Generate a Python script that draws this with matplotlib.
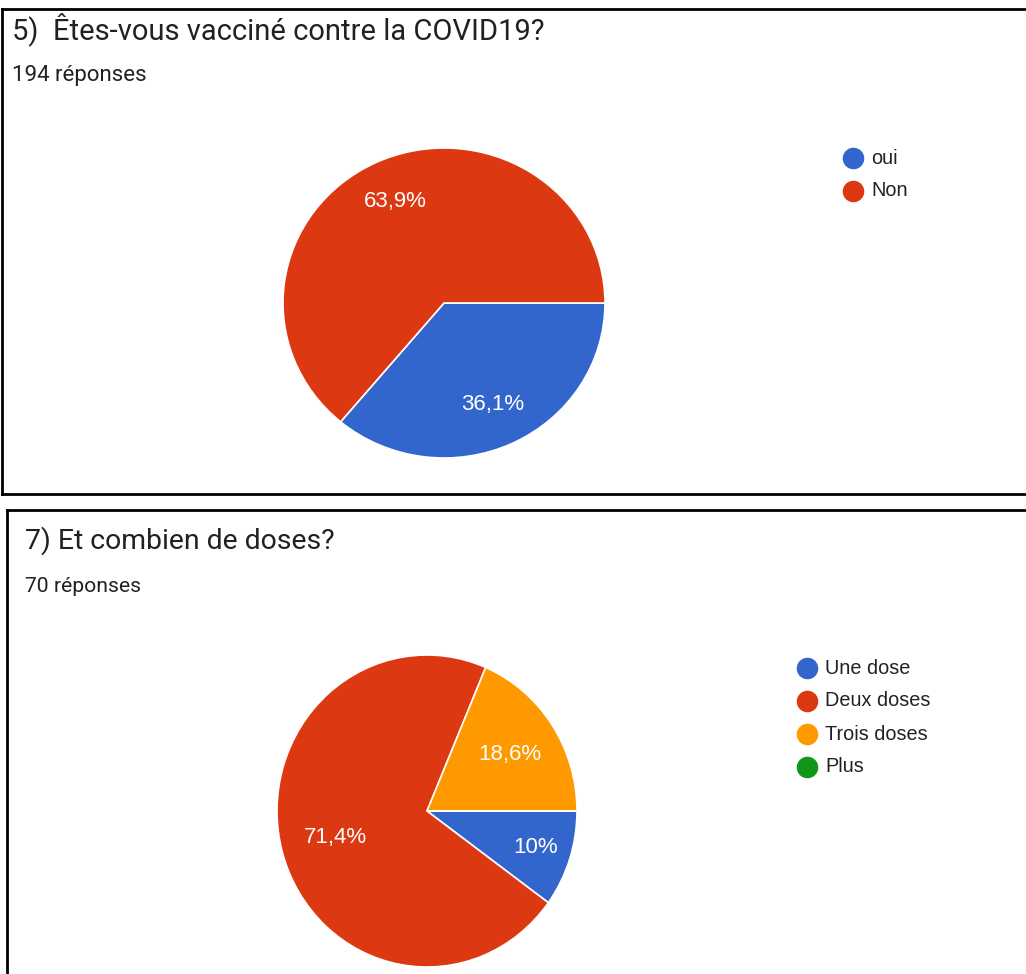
import numpy as np
import matplotlib
matplotlib.use("Agg")
import matplotlib.pyplot as plt
from matplotlib.lines import Line2D

# ---- data -------------------------------------------------------------
q5_title = "5)  Êtes-vous vacciné contre la COVID19?"
q5_count = "194 réponses"
q5_labels = ["oui", "Non"]
q5_values = [36.1, 63.9]

q7_title = "7) Et combien de doses?"
q7_count = "70 réponses"
q7_labels = ["Une dose", "Deux doses", "Trois doses", "Plus"]
q7_values = [10.0, 71.4, 18.6, 0.0]

palette = ["#3366CC", "#DC3912", "#FF9900", "#109618"]

# ---- figure -----------------------------------------------------------
W, H = 1026, 974
DPI = 100
fig = plt.figure(figsize=(W / DPI, H / DPI), dpi=DPI, facecolor="white")


def fx(x):
    return x / W


def fy(y):
    return 1 - y / H


TITLE_FONT = ["Roboto", "DejaVu Sans"]
BODY_FONT = ["Liberation Sans", "DejaVu Sans"]


def fmt_pct(v):
    s = f"{v:.1f}"
    if s.endswith(".0"):
        s = s[:-2]
    return s.replace(".", ",") + "%"


def draw_pie(values, cx, cy, rx, ry, label_r):
    ax = fig.add_axes([fx(cx - rx), fy(cy + ry), 2 * rx / W, 2 * ry / H])
    wedges, _ = ax.pie(values, colors=palette[:len(values)], startangle=0,
                       counterclock=False, radius=1.0,
                       wedgeprops=dict(edgecolor="white", linewidth=1.2))
    ax.set_xlim(-1, 1)
    ax.set_ylim(-1, 1)
    ax.set_aspect("auto")
    ax.axis("off")
    for w, v, r in zip(wedges, values, label_r):
        if v <= 0:
            continue
        mid = np.deg2rad((w.theta1 + w.theta2) / 2)
        ax.text(r * np.cos(mid), r * np.sin(mid), fmt_pct(v),
                ha="center", va="center", color="white",
                fontsize=16, family=BODY_FONT)
    return ax


def draw_legend(labels, x, y0, step):
    for i, lab in enumerate(labels):
        y = y0 + i * step
        fig.add_artist(Line2D([fx(x)], [fy(y)], marker="o", markersize=14.5,
                              color=palette[i], linestyle="none",
                              transform=fig.transFigure))
        fig.text(fx(x + 18), fy(y), lab, ha="left", va="center",
                 fontsize=14.3, color="#222222", family=BODY_FONT)


def draw_frame(x0, y_top, y_bot):
    kw = dict(color="black", linewidth=2.0, transform=fig.transFigure,
              solid_capstyle="projecting")
    fig.add_artist(Line2D([fx(x0), fx(W + 10)], [fy(y_top), fy(y_top)], **kw))
    fig.add_artist(Line2D([fx(x0), fx(x0)], [fy(y_top), fy(y_bot)], **kw))
    if y_bot < H:
        fig.add_artist(Line2D([fx(x0), fx(W + 10)], [fy(y_bot), fy(y_bot)], **kw))


# ---- question 5 -------------------------------------------------------
draw_frame(2, 8.5, 494.5)
fig.text(fx(12), fy(29), q5_title, ha="left", va="center", fontsize=21,
         color="#202124", family=TITLE_FONT)
fig.text(fx(12), fy(75), q5_count, ha="left", va="center", fontsize=16,
         color="#202124", family=TITLE_FONT)
draw_pie(q5_values, 444, 303, 161, 155, [0.72, 0.72])
draw_legend(q5_labels, 853, 158, 33)

# ---- question 7 -------------------------------------------------------
draw_frame(6.5, 510, H + 10)
fig.text(fx(25), fy(541), q7_title, ha="left", va="center", fontsize=20.4,
         color="#202124", family=TITLE_FONT)
fig.text(fx(25), fy(587), q7_count, ha="left", va="center", fontsize=15.2,
         color="#202124", family=TITLE_FONT)
draw_pie(q7_values, 427, 811, 150, 156, [0.76, 0.63, 0.66, 0.7])
draw_legend(q7_labels, 807, 668, 33)

fig.savefig("out.png", dpi=DPI, facecolor="white")
